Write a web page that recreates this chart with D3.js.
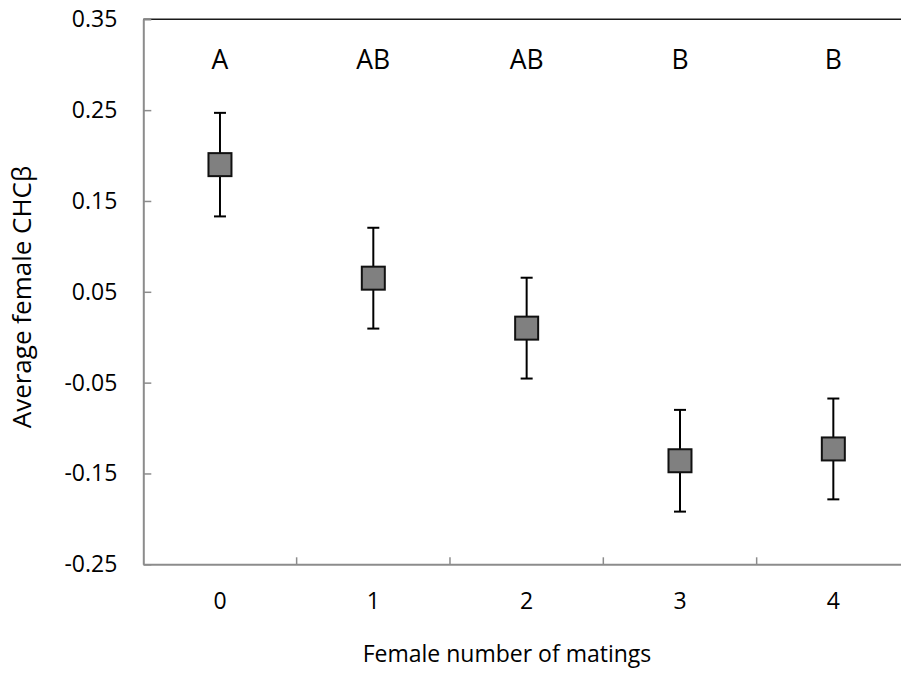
<!DOCTYPE html>
<html>
<head>
<meta charset="utf-8">
<script src="https://cdn.jsdelivr.net/npm/d3@7/dist/d3.min.js"></script>
<style>
  html, body { margin: 0; padding: 0; background: #fff; }
  svg { display: block; font-family: "Open Sans", sans-serif; }
</style>
</head>
<body>
<svg id="chart" width="901" height="675"></svg>
<script>
// values
var categories = ["0", "1", "2", "3", "4"];
var means = [0.190, 0.065, 0.010, -0.136, -0.123];
var errors = [0.057, 0.0555, 0.0555, 0.056, 0.0555];
var letters = ["A", "AB", "AB", "B", "B"];
var yTicks = [-0.25, -0.15, -0.05, 0.05, 0.15, 0.25, 0.35];
var yTickLabels = ["-0.25", "-0.15", "-0.05", "0.05", "0.15", "0.25", "0.35"];

var svg = d3.select("#chart");
var plotLeft = 143.3, plotRight = 910, plotTop = 19.3, plotBottom = 564.3;
var axisColor = "#8c8c8c";

var x = d3.scaleBand().domain(categories).range([plotLeft, plotRight]).padding(0);
var y = d3.scaleLinear().domain([-0.25, 0.35]).range([plotBottom, plotTop]);

var data = categories.map(function (c, i) {
    return { cat: c, mean: means[i], err: errors[i], letter: letters[i] };
});

// top border line
svg.append("line")
    .attr("x1", plotLeft).attr("x2", plotRight)
    .attr("y1", y(0.35)).attr("y2", y(0.35))
    .attr("stroke", "#1a1a1a").attr("stroke-width", 1.5);

// y axis
var yAxis = svg.append("g")
    .attr("transform", "translate(" + plotLeft + ",0)")
    .call(d3.axisLeft(y)
        .tickValues(yTicks)
        .tickFormat(function (d, i) { return yTickLabels[i]; })
        .tickSizeInner(-8)
        .tickSizeOuter(0)
        .tickPadding(26));
yAxis.select(".domain").attr("stroke", axisColor).attr("stroke-width", 2);
yAxis.selectAll(".tick line").attr("stroke", axisColor).attr("stroke-width", 1.5);
yAxis.selectAll(".tick text").attr("font-size", 23).attr("fill", "#000")
    .attr("font-family", "Open Sans");

// x axis (labels at centres, ticks on band edges)
var xAxis = svg.append("g")
    .attr("transform", "translate(0," + plotBottom + ")")
    .call(d3.axisBottom(x).tickSizeInner(0).tickSizeOuter(0).tickPadding(28));
xAxis.select(".domain").attr("stroke", axisColor).attr("stroke-width", 2);
xAxis.selectAll(".tick text").attr("font-size", 23).attr("fill", "#000")
    .attr("font-family", "Open Sans");

svg.append("g").selectAll("line")
    .data(categories.slice(1))
    .enter().append("line")
    .attr("x1", function (d) { return x(d); })
    .attr("x2", function (d) { return x(d); })
    .attr("y1", plotBottom).attr("y2", plotBottom - 7)
    .attr("stroke", axisColor).attr("stroke-width", 1.5);

// axis titles
svg.append("text")
    .attr("x", 507).attr("y", 662)
    .attr("text-anchor", "middle")
    .attr("font-size", 23)
    .text("Female number of matings");

svg.append("text")
    .attr("transform", "translate(31,297) rotate(-90)")
    .attr("text-anchor", "middle")
    .attr("font-size", 26)
    .text("Average female CHCβ");

// error bars
var cx = function (d) { return x(d.cat) + x.bandwidth() / 2; };
var bars = svg.append("g").selectAll("g.err")
    .data(data)
    .enter().append("g")
    .attr("class", "err")
    .attr("stroke", "#000")
    .attr("stroke-width", 2);

bars.append("line")
    .attr("x1", cx).attr("x2", cx)
    .attr("y1", function (d) { return y(d.mean + d.err); })
    .attr("y2", function (d) { return y(d.mean - d.err); });
bars.append("line")
    .attr("x1", function (d) { return cx(d) - 6; })
    .attr("x2", function (d) { return cx(d) + 6; })
    .attr("y1", function (d) { return y(d.mean + d.err); })
    .attr("y2", function (d) { return y(d.mean + d.err); });
bars.append("line")
    .attr("x1", function (d) { return cx(d) - 6; })
    .attr("x2", function (d) { return cx(d) + 6; })
    .attr("y1", function (d) { return y(d.mean - d.err); })
    .attr("y2", function (d) { return y(d.mean - d.err); });

// square markers
var size = 23;
svg.append("g").selectAll("rect")
    .data(data)
    .enter().append("rect")
    .attr("x", function (d) { return cx(d) - size / 2; })
    .attr("y", function (d) { return y(d.mean) - size / 2; })
    .attr("width", size).attr("height", size)
    .attr("fill", "#808080")
    .attr("stroke", "#111")
    .attr("stroke-width", 2);

// significance letters
svg.append("g").selectAll("text")
    .data(data)
    .enter().append("text")
    .attr("x", cx)
    .attr("y", 69)
    .attr("text-anchor", "middle")
    .attr("font-size", 26.5)
    .text(function (d) { return d.letter; });
</script>
</body>
</html>
